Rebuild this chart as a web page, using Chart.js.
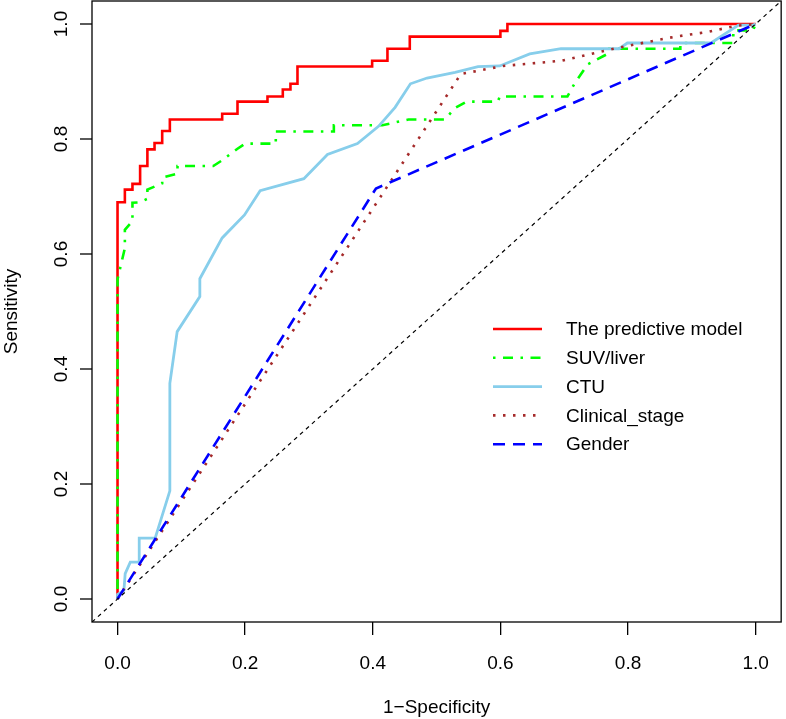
<!DOCTYPE html>
<html>
<head>
<meta charset="utf-8">
<script src="https://cdn.jsdelivr.net/npm/chart.js@4.4.1/dist/chart.umd.min.js"></script>
<style>
  body { margin: 0; background: #fff; }
  #wadah { width: 786px; height: 719px; }
</style>
</head>
<body>
<div id="wadah"><canvas id="grafikRoc"></canvas></div>
<script>
// 1. Data (x = 1-specificity, y = sensitivity)
const seriesNames = ['The predictive model', 'SUV/liver', 'CTU', 'Clinical_stage', 'Gender'];
const tickValues = [0, 0.2, 0.4, 0.6, 0.8, 1.0];

// red curve is drawn as a step line, so only the corners are listed
const modelX = [0, 0, 0.0115, 0.0234, 0.0354, 0.0468, 0.058, 0.070, 0.082, 0.164, 0.188, 0.235, 0.259, 0.271, 0.282, 0.399, 0.423, 0.458, 0.600, 0.611, 1.0];
const modelY = [0, 0.690, 0.712, 0.722, 0.753, 0.782, 0.793, 0.814, 0.834, 0.844, 0.865, 0.874, 0.886, 0.896, 0.926, 0.936, 0.957, 0.978, 0.988, 1.0, 1.0];

const suvX = [0, 0, 0.0115, 0.0115, 0.0234, 0.0234, 0.035, 0.0468, 0.0468, 0.070, 0.070, 0.094, 0.094, 0.150, 0.164, 0.188, 0.200, 0.248, 0.248, 0.339, 0.339, 0.415, 0.456, 0.513, 0.529, 0.547, 0.596, 0.599, 0.705, 0.716, 0.737, 0.768, 0.768, 0.882, 0.882, 0.965, 0.965, 0.996, 1.0];
const suvY = [0, 0.556, 0.610, 0.642, 0.657, 0.689, 0.690, 0.696, 0.712, 0.723, 0.733, 0.740, 0.753, 0.753, 0.763, 0.783, 0.792, 0.792, 0.813, 0.813, 0.824, 0.824, 0.834, 0.834, 0.854, 0.865, 0.865, 0.874, 0.874, 0.896, 0.930, 0.948, 0.957, 0.957, 0.967, 0.967, 0.989, 0.989, 1.0];

const ctuX = [0, 0, 0.010, 0.012, 0.020, 0.034, 0.034, 0.059, 0.082, 0.082, 0.0935, 0.129, 0.129, 0.164, 0.199, 0.2235, 0.292, 0.329, 0.376, 0.409, 0.435, 0.459, 0.485, 0.529, 0.565, 0.599, 0.646, 0.695, 0.786, 0.799, 0.930, 0.973, 0.996, 1.0];
const ctuY = [0, 0.008, 0.015, 0.044, 0.064, 0.064, 0.106, 0.106, 0.188, 0.375, 0.465, 0.526, 0.557, 0.628, 0.668, 0.710, 0.731, 0.773, 0.792, 0.822, 0.855, 0.896, 0.906, 0.916, 0.926, 0.927, 0.948, 0.957, 0.957, 0.967, 0.967, 0.998, 0.998, 1.0];

const stageX = [0, 0.538, 0.604, 0.695, 0.786, 0.874, 0.924, 0.970, 1.0];
const stageY = [0, 0.913, 0.927, 0.936, 0.959, 0.978, 0.986, 0.997, 1.0];

const genderX = [0, 0.405, 1.0];
const genderY = [0, 0.714, 1.0];

// reference diagonal (abline 0,1) across the whole plot region
const diagX = [-0.04, 1.04];
const diagY = [-0.04, 1.04];

const hurufUtama = '"Liberation Sans", Arial, Helvetica, sans-serif';

function jadikanTitik(xs, ys) {
    return xs.map(function(x, i) { return { x: x, y: ys[i] }; });
}

// 2. Box, y axis (rotated labels like R) and the legend
const hiasanPlot = {
    id: 'hiasanPlot',
    afterDraw: function(chart) {
        const ctx = chart.ctx;
        const area = chart.chartArea;
        const skalaY = chart.scales.y;

        ctx.save();
        ctx.strokeStyle = '#000';
        ctx.lineWidth = 1.3;
        ctx.setLineDash([]);
        ctx.strokeRect(area.left, area.top, area.right - area.left, area.bottom - area.top);

        ctx.font = '19px ' + hurufUtama;
        ctx.fillStyle = '#000';
        ctx.textAlign = 'center';
        ctx.textBaseline = 'middle';
        tickValues.forEach(function(v) {
            const py = skalaY.getPixelForValue(v);
            ctx.beginPath();
            ctx.moveTo(area.left, py);
            ctx.lineTo(area.left - 12, py);
            ctx.stroke();
            ctx.save();
            ctx.translate(62, py);
            ctx.rotate(-Math.PI / 2);
            ctx.fillText(v.toFixed(1), 0, 0);
            ctx.restore();
        });

        // legend inside the plot
        const garisAwal = 493, garisAkhir = 542, teksX = 566, barisAwal = 329, jarakBaris = 28.8;
        ctx.textAlign = 'left';
        seriesNames.forEach(function(nama, i) {
            const ds = chart.data.datasets[i];
            const py = barisAwal + i * jarakBaris;
            ctx.strokeStyle = ds.borderColor;
            ctx.lineWidth = ds.borderWidth;
            ctx.lineCap = ds.borderCapStyle || 'butt';
            ctx.setLineDash(ds.borderDash || []);
            ctx.beginPath();
            ctx.moveTo(garisAwal, py);
            ctx.lineTo(garisAkhir, py);
            ctx.stroke();
            ctx.setLineDash([]);
            ctx.fillStyle = '#000';
            ctx.fillText(nama, teksX, py + 1);
        });
        ctx.restore();
    }
};

// 3. Build the chart
const konteks = document.getElementById('grafikRoc').getContext('2d');
new Chart(konteks, {
    type: 'scatter',
    data: {
        datasets: [
            { label: seriesNames[0], data: jadikanTitik(modelX, modelY), stepped: 'before',
              borderColor: '#ff0000', borderWidth: 2.6, order: 6 },
            { label: seriesNames[1], data: jadikanTitik(suvX, suvY),
              borderColor: '#00ff00', borderWidth: 2.6, borderDash: [2.5, 7.5, 10, 7.5], order: 5 },
            { label: seriesNames[2], data: jadikanTitik(ctuX, ctuY),
              borderColor: '#87ceeb', borderWidth: 2.8, order: 4 },
            { label: seriesNames[3], data: jadikanTitik(stageX, stageY),
              borderColor: '#a52a2a', borderWidth: 2.6, borderDash: [2.5, 7.5], order: 3 },
            { label: seriesNames[4], data: jadikanTitik(genderX, genderY),
              borderColor: '#0000ff', borderWidth: 2.6, borderDash: [12, 8], order: 2 },
            { label: 'diagonal', data: jadikanTitik(diagX, diagY),
              borderColor: '#000000', borderWidth: 1.2, borderDash: [4, 4], order: 1 }
        ]
    },
    options: {
        responsive: true,
        maintainAspectRatio: false,
        animation: false,
        showLine: true,
        elements: { point: { radius: 0, hoverRadius: 0 }, line: { tension: 0, borderCapStyle: 'butt' } },
        layout: { padding: { top: 1, right: 4, left: 0, bottom: 0 } },
        plugins: { legend: { display: false }, tooltip: { enabled: false } },
        scales: {
            x: {
                type: 'linear', min: -0.04, max: 1.04,
                afterBuildTicks: function(s) { s.ticks = tickValues.map(function(v) { return { value: v }; }); },
                afterFit: function(s) { s.height = 97; },
                grid: { display: true, drawOnChartArea: false, drawTicks: true, tickLength: 13, color: '#000', lineWidth: 1.3 },
                border: { display: false },
                ticks: { autoSkip: false, maxRotation: 0, padding: 17, color: '#000',
                         font: { family: hurufUtama, size: 19 },
                         callback: function(v) { return Number(v).toFixed(1); } },
                title: { display: true, text: '1\u2212Specificity', color: '#000',
                         font: { family: hurufUtama, size: 19 }, padding: { top: 0, bottom: 0 } }
            },
            y: {
                type: 'linear', min: -0.04, max: 1.04,
                afterFit: function(s) { s.width = 92; },
                grid: { display: false },
                border: { display: false },
                ticks: { display: false },
                title: { display: true, text: 'Sensitivity', color: '#000',
                         font: { family: hurufUtama, size: 19 }, padding: { top: 0, bottom: 0 } }
            }
        }
    },
    plugins: [hiasanPlot]
});
</script>
</body>
</html>
